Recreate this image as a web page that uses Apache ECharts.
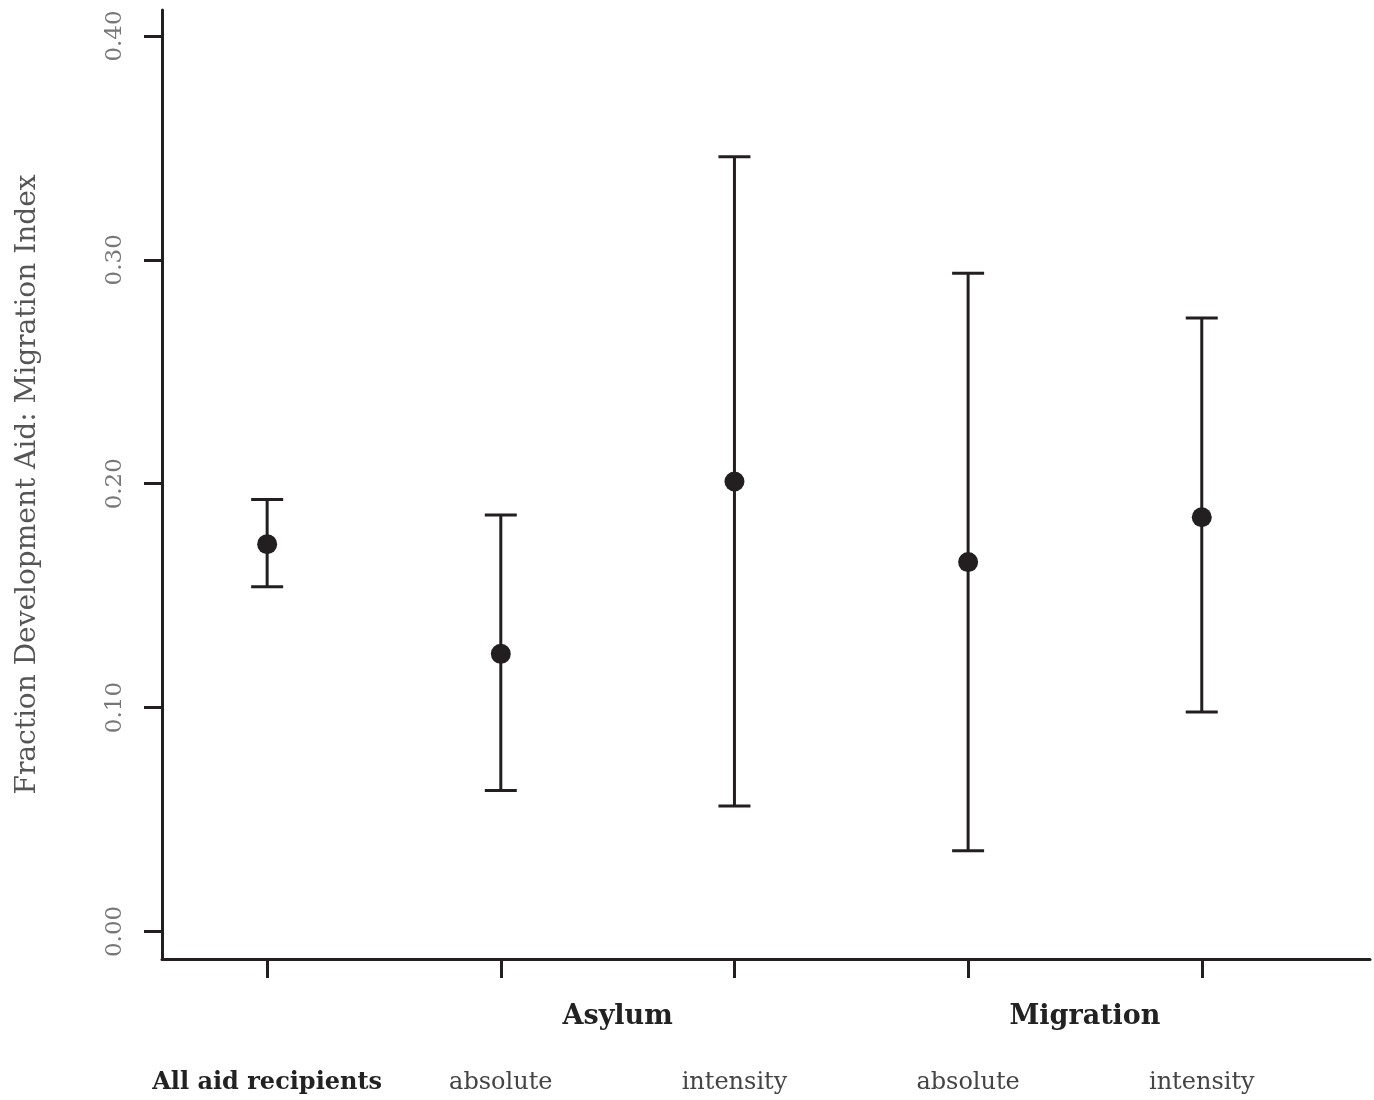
<!DOCTYPE html>
<html>
<head>
<meta charset="utf-8">
<script src="https://cdn.jsdelivr.net/npm/echarts@6/dist/echarts.min.js"></script>
<style>
  html, body { margin: 0; padding: 0; background: #fff; }
  #chart { width: 1374px; height: 1100px; }
</style>
</head>
<body>
<div id="chart"></div>
<script>
// positions of the five estimates along the x axis
const positions = [1, 2, 3, 4, 5]
const subLabels = ['All aid recipients', 'absolute', 'intensity', 'absolute', 'intensity']
const groupPositions = [2.5, 4.5]
const groupLabels = ['Asylum', 'Migration']

// point estimates with lower / upper bounds
const estimates = [0.173, 0.124, 0.201, 0.165, 0.185]
const lower = [0.154, 0.063, 0.056, 0.036, 0.098]
const upper = [0.193, 0.186, 0.346, 0.294, 0.274]

const yTicks = [0, 0.1, 0.2, 0.3, 0.4]

const ink = '#231f20'
const serif = '"DejaVu Serif", "Liberation Serif", serif'

const chart = echarts.init(document.getElementById('chart'))

const option = {
  animation: false,
  grid: { left: 162, right: 4, top: 10, bottom: 141 },
  xAxis: [
    {
      type: 'value',
      min: 0.55,
      max: 5.72,
      axisLine: { show: true, onZero: false, lineStyle: { color: ink, width: 3 } },
      axisTick: { show: true, customValues: positions, length: 19, lineStyle: { color: ink, width: 3 } },
      splitLine: { show: false },
      axisLabel: {
        customValues: positions,
        margin: 112,
        fontFamily: serif,
        fontSize: 24,
        color: '#444',
        formatter: (v) => {
          const i = positions.indexOf(v)
          return i === 0 ? '{b|' + subLabels[i] + '}' : subLabels[i]
        },
        rich: { b: { fontFamily: serif, fontSize: 24, fontWeight: 'bold', color: '#222' } }
      }
    },
    {
      type: 'value',
      position: 'bottom',
      min: 0.55,
      max: 5.72,
      axisLine: { show: false },
      axisTick: { show: false },
      splitLine: { show: false },
      axisLabel: {
        customValues: groupPositions,
        margin: 44,
        fontFamily: serif,
        fontSize: 27,
        fontWeight: 'bold',
        color: '#222',
        formatter: (v) => groupLabels[groupPositions.indexOf(v)]
      }
    }
  ],
  yAxis: {
    type: 'value',
    min: -0.0123,
    max: 0.4116,
    name: 'Fraction Development Aid: Migration Index',
    nameLocation: 'middle',
    nameRotate: 90,
    nameGap: 120,
    nameTextStyle: { fontFamily: serif, fontSize: 28, color: '#555' },
    axisLine: { show: true, onZero: false, lineStyle: { color: ink, width: 3 } },
    axisTick: { show: true, customValues: yTicks, length: 18, lineStyle: { color: ink, width: 3 } },
    splitLine: { show: false },
    axisLabel: {
      customValues: yTicks,
      rotate: 90,
      margin: 35,
      fontFamily: serif,
      fontSize: 23,
      color: '#777',
      formatter: (v) => v.toFixed(2)
    }
  },
  series: [
    {
      type: 'custom',
      xAxisIndex: 0,
      data: positions.map((p, i) => [p, lower[i], upper[i]]),
      renderItem: (params, api) => {
        const lo = api.coord([api.value(0), api.value(1)])
        const hi = api.coord([api.value(0), api.value(2)])
        const half = 16
        const style = { stroke: ink, lineWidth: 3 }
        return {
          type: 'group',
          children: [
            { type: 'line', shape: { x1: lo[0], y1: lo[1], x2: hi[0], y2: hi[1] }, style },
            { type: 'line', shape: { x1: hi[0] - half, y1: hi[1], x2: hi[0] + half, y2: hi[1] }, style },
            { type: 'line', shape: { x1: lo[0] - half, y1: lo[1], x2: lo[0] + half, y2: lo[1] }, style }
          ]
        }
      }
    },
    {
      type: 'scatter',
      xAxisIndex: 0,
      symbol: 'circle',
      symbolSize: 20,
      itemStyle: { color: ink, opacity: 1 },
      data: positions.map((p, i) => [p, estimates[i]])
    }
  ]
}

chart.setOption(option)
</script>
</body>
</html>
